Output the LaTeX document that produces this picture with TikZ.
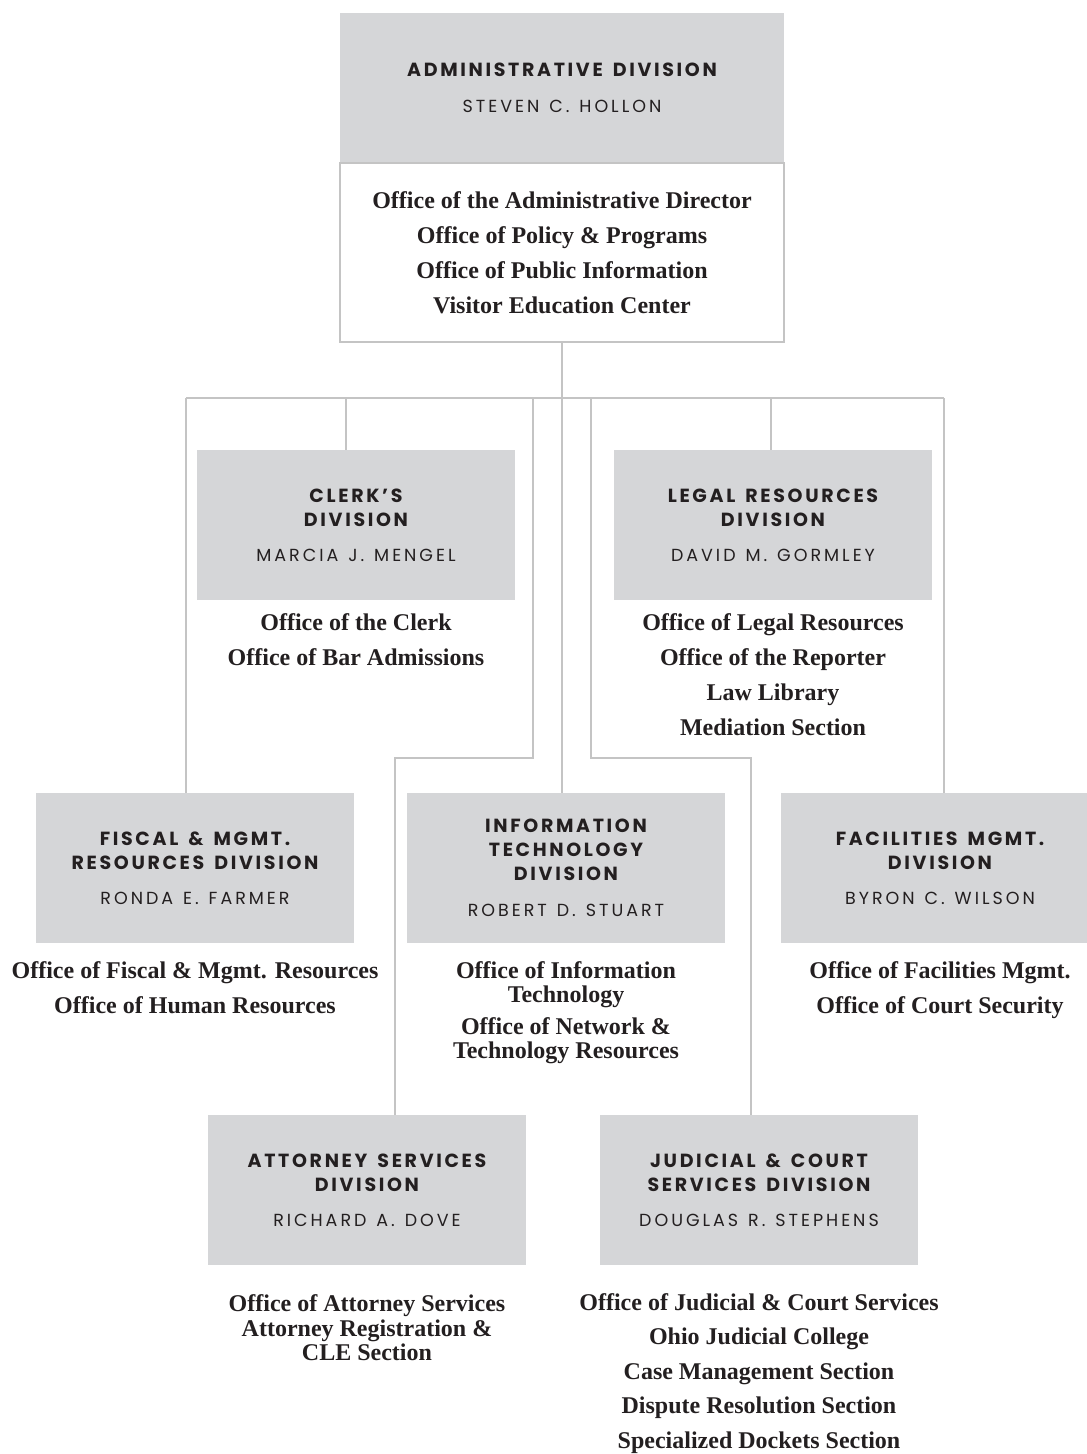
\documentclass[tikz,border=0pt]{standalone}
\usepackage{fontspec}
\setmainfont{Liberation Serif}
\newfontfamily\hdrfont[LetterSpace=14,WordSpace=1.5]{Poppins}
\newfontfamily\namefont[LetterSpace=17,WordSpace=1.3]{Poppins}
\usetikzlibrary{positioning}

\definecolor{boxgray}{HTML}{D5D6D8}
\definecolor{linegray}{HTML}{C4C4C4}
\definecolor{inkdark}{HTML}{231F20}

\newcommand{\dvh}[1]{{\hdrfont\bfseries #1}}
\newcommand{\dvn}[1]{{\namefont\fontsize{17.5}{24}\selectfont #1}}

\tikzset{
  divbox/.style={fill=boxgray, minimum width=318pt, minimum height=150pt,
    inner sep=0pt, align=center, text=inkdark,
    font=\fontsize{19}{24}\selectfont},
  offices/.style={align=center, inner sep=0pt, text=inkdark,
    font=\fontsize{24}{35}\selectfont\bfseries},
  link/.style={draw=linegray, line width=1.6pt},
}

\begin{document}
\begin{tikzpicture}[x=1pt,y=-1pt]
  \useasboundingbox (0,0) rectangle (1087,1454);
  \clip (0,0) rectangle (1087,1454);

  % top of the chart
  \node[divbox, minimum width=444pt, minimum height=149pt] (admin) at (562,87.5)
    {\dvh{ADMINISTRATIVE DIVISION}\\[12pt]\dvn{STEVEN C. HOLLON}};
  \node[offices, draw=linegray, line width=1.6pt, minimum width=444pt,
    minimum height=179pt, below=0pt of admin] (adminoff)
    {Office of the Administrative Director\\Office of Policy \& Programs\\
     Office of Public Information\\Visitor Education Center};

  % divisions
  \node[divbox] (clerk) at (356,525)
    {\dvh{CLERK’S}\\\dvh{DIVISION}\\[11pt]\dvn{MARCIA J. MENGEL}};
  \node[divbox] (legal) at (773,525)
    {\dvh{LEGAL RESOURCES}\\\dvh{DIVISION}\\[11pt]\dvn{DAVID M. GORMLEY}};
  \node[divbox] (fiscal) at (195,868)
    {\dvh{FISCAL \& MGMT.}\\\dvh{RESOURCES DIVISION}\\[11pt]\dvn{RONDA E. FARMER}};
  \node[divbox] (infotech) at (566,868)
    {\dvh{INFORMATION}\\\dvh{TECHNOLOGY}\\\dvh{DIVISION}\\[12pt]\dvn{ROBERT D. STUART}};
  \node[divbox] (facil) at (940,868)
    {\dvh{FACILITIES MGMT.}\\\dvh{DIVISION}\\[11pt]\dvn{BYRON C. WILSON}};
  \node[divbox] (attorney) at (367,1190)
    {\dvh{ATTORNEY SERVICES}\\\dvh{DIVISION}\\[11pt]\dvn{RICHARD A. DOVE}};
  \node[divbox] (judicial) at (759,1190)
    {\dvh{JUDICIAL \& COURT}\\\dvh{SERVICES DIVISION}\\[11pt]\dvn{DOUGLAS R. STEPHENS}};

  % offices under each division
  \node[offices, below=13pt of clerk] (clerkoff)
    {Office of the Clerk\\Office of Bar Admissions};
  \node[offices, below=13pt of legal] (legaloff)
    {Office of Legal Resources\\Office of the Reporter\\Law Library\\Mediation Section};
  \node[offices, below=18pt of fiscal] (fiscaloff)
    {Office of Fiscal \& Mgmt. Resources\\Office of Human Resources};
  \node[offices, below=18pt of infotech] (infotechoff)
    {Office of Information\\[-11pt]Technology\\[-3pt]
     Office of Network \&\\[-11pt]Technology Resources};
  \node[offices, below=18pt of facil] (faciloff)
    {Office of Facilities Mgmt.\\Office of Court Security};
  \node[offices, below=29pt of attorney] (attorneyoff)
    {Office of Attorney Services\\[-10pt]Attorney Registration \&\\[-11pt]CLE Section};
  \node[offices, below=28pt of judicial] (judicialoff)
    {Office of Judicial \& Court Services\\[-0.5pt]Ohio Judicial College\\[-0.5pt]
     Case Management Section\\[-0.5pt]Dispute Resolution Section\\[-0.5pt]Specialized Dockets Section};

  % connectors
  \coordinate (busL) at (186,398);
  \coordinate (busR) at (944,398);
  \coordinate (tapClerk) at (346,398);
  \coordinate (tapLegal) at (771,398);
  \coordinate (tapAtt) at (533,398);
  \coordinate (tapJud) at (591,398);
  \coordinate (elbAtt) at (395,758);
  \coordinate (elbJud) at (751,758);

  \draw[link] (busL) -- (busR);
  \draw[link] (adminoff.south) -- (adminoff.south |- infotech.north);
  \draw[link] (busL) -- (busL |- fiscal.north);
  \draw[link] (busR) -- (busR |- facil.north);
  \draw[link] (tapClerk) -- (tapClerk |- clerk.north);
  \draw[link] (tapLegal) -- (tapLegal |- legal.north);
  \draw[link] (tapAtt) |- (elbAtt) -- (elbAtt |- attorney.north);
  \draw[link] (tapJud) |- (elbJud) -- (elbJud |- judicial.north);
\end{tikzpicture}
\end{document}
